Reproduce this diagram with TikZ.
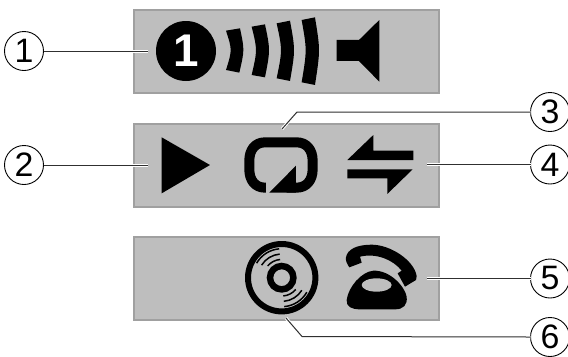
\documentclass[tikz,border=0pt]{standalone}
\usepackage{fontspec}
\setmainfont{Liberation Sans}
\definecolor{panelfill}{HTML}{BEBEBE}
\definecolor{panelline}{HTML}{A0A0A0}
\definecolor{leadline}{HTML}{303030}
\tikzset{
  panel/.style={draw=panelline,line width=2bp,fill=panelfill,minimum width=305bp,minimum height=83bp,inner sep=0pt,outer sep=0pt},
  callout/.style={circle,draw=black,line width=0.9bp,fill=white,minimum size=39bp,inner sep=0pt,outer sep=0pt,font=\fontsize{34}{34}\selectfont},
  leader/.style={draw=leadline,line width=1bp,preaction={draw=white,line width=3bp}},
  ink/.style={fill=black,draw=none},
  zoomA/.style={x=0.3333bp,y=-0.3333bp},
}
\begin{document}
\begin{tikzpicture}[x=1bp,y=-1bp]
\useasboundingbox (0,0) rectangle (568,356);
\node[panel] (p1) at (286,51) {};
\node[panel] (p2) at (286,165) {};
\node[panel] (p3) at (286,278) {};
% leaders
\node[callout] (c1) at (24,51) {1};
\node[callout] (c2) at (24,165) {2};
\node[callout] (c3) at (550,112) {3};
\node[callout] (c4) at (550,164.5) {4};
\node[callout] (c5) at (550,278.5) {5};
\node[callout] (c6) at (550,337) {6};
\coordinate (e1) at (148,51);
\coordinate (e2) at (148,165);
\coordinate (b3) at (297,112);
\coordinate (e3) at (282,129);
\coordinate (e4) at (427,164.5);
\coordinate (e5) at (427,278.5);
\coordinate (b6) at (302,336.5);
\coordinate (e6) at (286,318);
\path[leader] (c1) -- (e1);
\path[leader] (c2) -- (e2);
\path[leader] (c3.west) -- (b3) -- (e3);
\path[leader] (c4) -- (e4);
\path[leader] (c5) -- (e5);
\path[leader] (c6.west) -- (b6) -- (e6);
% track number
\node[circle,fill=black,minimum size=60bp,inner sep=0pt,text=white,font=\fontsize{46}{46}\selectfont\bfseries] (n1) at (186,51) {1};
% volume arcs and speaker
\begin{scope}[shift={(140bp,0bp)},zoomA]
\fill[ink] (258,92) -- (300,85) .. controls (313.7,150) .. (298,218) -- (258,210) .. controls (276.7,150) .. (258,92) -- cycle;
\fill[ink] (335,80) -- (375,73) .. controls (391,150) .. (375,232) -- (335,225) .. controls (352.3,150) .. (335,80) -- cycle;
\fill[ink] (410,70) -- (450,62) .. controls (466,150) .. (450,243) -- (410,235) .. controls (427.3,150) .. (410,70) -- cycle;
\fill[ink] (485,60) -- (525,52) .. controls (541,150) .. (525,255) -- (485,247) .. controls (501,150) .. (485,60) -- cycle;
\fill[ink] (590,120) -- (657,120) -- (718,60) -- (718,245) -- (657,183) -- (590,183) -- cycle;
\end{scope}
% play, repeat, shuffle
\begin{scope}[shift={(130bp,-110bp)},zoomA]
\fill[ink] (95,82) -- (240,165) -- (95,250) -- cycle;
\draw[line width=10bp,line join=round] (408,233) -- (405,233) .. controls (375,233) and (358,210) .. (358,178) -- (358,152) .. controls (358,120) and (375,97) .. (405,97) -- (500,97) .. controls (530,97) and (548,120) .. (548,152) -- (548,178) .. controls (548,210) and (530,233) .. (500,233) -- (470,233);
\fill[ink] (418,248) -- (498,167) -- (498,248) -- cycle;
\fill[ink] (652,150) -- (730,75) -- (730,122) -- (850,122) -- (850,150) -- cycle;
\fill[ink] (652,178) -- (848,178) -- (772,252) -- (772,205) -- (652,205) -- cycle;
\end{scope}
% disc
\draw[line width=6bp] (281.7,277.7) circle[radius=33.7bp];
\draw[line width=6.5bp] (281.7,277.7) circle[radius=11.7bp];
\begin{scope}[shift={(281.7bp,-277.7bp)},line width=1.5bp,x=1bp,y=1bp]
\foreach \r/\a in {29/150,23.7/148,18.3/140}{
  \draw (95:\r) arc[start angle=95,end angle=\a,radius=\r];
  \draw (-85:\r) arc[start angle=-85,end angle=\a-180,radius=\r];
}
\end{scope}
% telephone
\begin{scope}[shift={(340bp,-240bp)},zoomA]
\fill[ink] (28,82) .. controls (20,70) and (16,60) .. (18,52) .. controls (22,28) and (50,14) .. (95,14) .. controls (150,14) and (222,60) .. (230,108) -- (228,120) -- (195,140) -- (173,100) -- (185,92) .. controls (160,60) and (110,38) .. (60,50) -- (65,68) -- cycle;
\fill[ink] (100,92) .. controls (65,95) and (25,140) .. (20,180) .. controls (18,200) and (35,208) .. (60,208) -- (165,208) .. controls (190,208) and (203,195) .. (200,170) .. controls (195,140) and (150,90) .. (100,92) -- cycle;
\fill[panelfill] (110,135) ellipse[x radius=45,y radius=20];
\end{scope}
\end{tikzpicture}
\end{document}
